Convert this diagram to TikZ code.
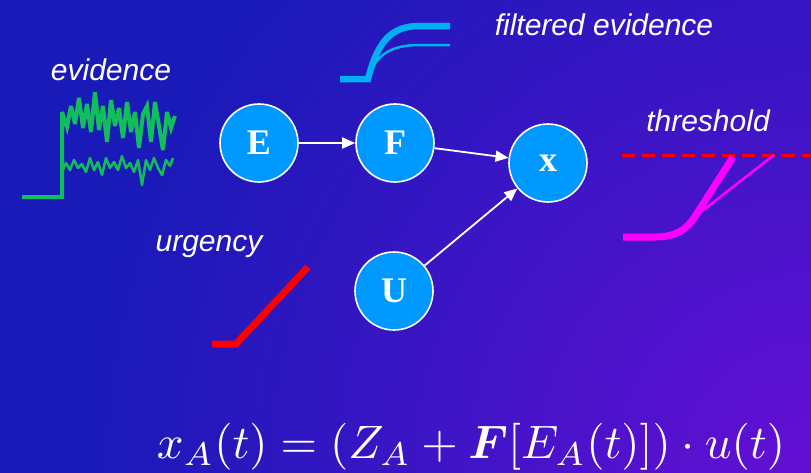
\documentclass[tikz,border=0pt]{standalone}
\usepackage{fontspec}
\usepackage{amsmath}
\setmainfont{Liberation Serif}
\newfontfamily\labfont{Liberation Sans}
\usetikzlibrary{arrows.meta}
\definecolor{bgblue}{HTML}{1A1AB8}
\definecolor{bgpurple}{HTML}{640FD4}
\definecolor{nodeblue}{HTML}{0099FF}
\definecolor{evgreen}{HTML}{12BE5A}
\definecolor{fcyan}{HTML}{00B0F0}
\definecolor{thmag}{HTML}{FF00FF}
\pgfdeclareradialshading{bgrad}{\pgfpoint{0bp}{0bp}}{color(0bp)=(bgpurple); color(18bp)=(bgblue); color(50bp)=(bgblue)}
\tikzset{
  varnode/.style={circle, fill=nodeblue, draw=white, line width=1.6pt, minimum size=78pt, inner sep=0pt, text=white, font=\fontsize{36}{40}\selectfont\bfseries},
  conn/.style={white, line width=1.8pt, -{Triangle[length=13pt,width=11pt]}},
  lab/.style={text=white, font=\labfont\itshape\fontsize{30}{36}\selectfont},
}
\begin{document}
\begin{tikzpicture}[x=1pt,y=-1pt]
\useasboundingbox (0,0) rectangle (811,472);
% background
\begin{scope}
\clip (0,0) rectangle (811,472);
\shade[shading=bgrad] (811,472) circle (1000pt);
\end{scope}

% labels
\node[lab] (levid) at (111,70) {evidence};
\node[lab] (lfilt) at (604,25) {filtered evidence};
\node[lab] (lthr) at (708,121) {threshold};
\node[lab] (lurg) at (209,247) {urgency};

% evidence traces
\draw[evgreen, line width=4pt, line join=miter, miter limit=4] (22,197) -- (62,197) -- (62,112)
 -- (67,127) -- (71,106) -- (75,124) -- (79,98) -- (83,128) -- (87,104) -- (91,132) -- (95,92) -- (99,130) -- (103,106) -- (107,142) -- (111,100) -- (115,126) -- (119,108) -- (123,138) -- (127,102) -- (131,132) -- (135,112) -- (139,148) -- (143,114) -- (147,106) -- (151,142) -- (155,102) -- (159,126) -- (163,150) -- (167,112) -- (171,128) -- (175,116);
\draw[evgreen, line width=2.5pt, line join=round] (62,172) -- (66,163) -- (70,170) -- (74,160) -- (78,168) -- (82,164) -- (86,172) -- (90,158) -- (94,170) -- (98,162) -- (102,175) -- (106,158) -- (110,168) -- (114,162) -- (118,170) -- (122,156) -- (126,168) -- (130,163) -- (134,172) -- (138,160) -- (142,185) -- (146,160) -- (150,170) -- (154,158) -- (158,168) -- (162,175) -- (166,160) -- (170,166) -- (173,158);

% filtered evidence curves
\draw[fcyan, line width=6.5pt] (340,79) -- (368,79) .. controls (378,40) and (392,26) .. (420,26) -- (450,26);
\draw[fcyan, line width=2.5pt] (371,70) .. controls (380,52) and (395,45) .. (420,45) -- (450,45);

% threshold
\draw[red, line width=3pt, dash pattern=on 13pt off 7pt] (622,155) -- (811,155);
\draw[thmag, line width=2.5pt] (688,222) -- (774,155);
\draw[thmag, line width=7pt] (623,237) -- (655,237) .. controls (675,237) and (686,230) .. (694,218) -- (733,157);

% urgency
\draw[red, line width=7pt, line join=miter] (212,344) -- (236,344) -- (308,267);

% nodes
\node[varnode] (E) at (259,143) {E};
\node[varnode] (F) at (395,143) {F};
\node[varnode] (X) at (548,163) {x};
\node[varnode] (U) at (394,291) {U};

\draw[conn] (E) -- (F);
\draw[conn] (F) -- (X);
\draw[conn] (U) -- (X);

% equation
\node[text=white, inner sep=0pt] (eq) at (471,447) {\resizebox{628pt}{!}{$x_A(t) = (Z_A + \boldsymbol{F}[E_A(t)])\cdot u(t)$}};
\end{tikzpicture}
\end{document}
